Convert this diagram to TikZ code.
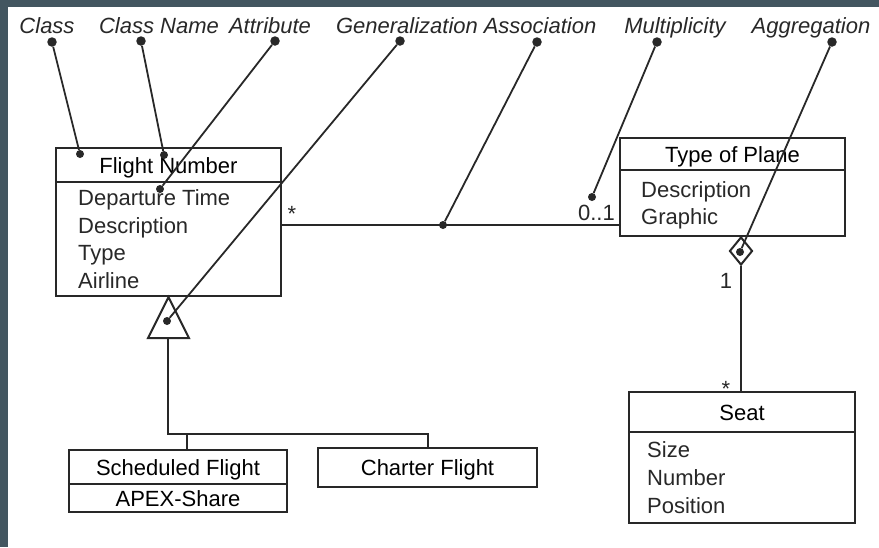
\documentclass[tikz,border=0pt]{standalone}
\usepackage{fontspec}
\setmainfont{Liberation Sans}
\usetikzlibrary{shapes.geometric}
\definecolor{slate}{RGB}{67,86,96}
\definecolor{ink}{RGB}{40,40,40}
\tikzset{
  umlbox/.style={draw=ink,line width=2.2pt,inner sep=0pt,text height=16pt,text depth=0pt,font=\fontsize{22}{26}\selectfont},
  attr/.style={anchor=base west,inner sep=0pt,text=ink,font=\fontsize{22}{26}\selectfont},
  tag/.style={anchor=base,inner sep=0pt,text=ink,font=\itshape\fontsize{22}{26}\selectfont},
  mult/.style={anchor=base,inner sep=0pt,text=ink,font=\fontsize{22}{26}\selectfont},
  pindot/.style={circle,fill=ink,inner sep=0pt,minimum size=8pt},
  topdot/.style={circle,fill=ink,inner sep=0pt,minimum size=9.5pt},
  lead/.style={draw=ink,line width=1.8pt},
  link/.style={draw=ink,line width=2pt}
}
\begin{document}
\begin{tikzpicture}[x=1pt,y=-1pt]
\useasboundingbox (0,0) rectangle (879,547);
\fill[white] (0,0) rectangle (879,547);
\fill[slate] (0,0) rectangle (8,547);
\fill[slate] (0,0) rectangle (879,7);
% classes
\node[umlbox,minimum width=225pt,minimum height=34pt] (fnhead) at (168.5,165) {Flight Number};
\node[umlbox,minimum width=225pt,minimum height=114pt] (fnbody) at (168.5,239) {};
\node[attr] (fn1) at (78,205) {Departure Time};
\node[attr] (fn2) at (78,233) {Description};
\node[attr] (fn3) at (78,260) {Type};
\node[attr] (fn4) at (78,288) {Airline};
\node[umlbox,minimum width=225pt,minimum height=32pt] (tphead) at (732.5,154) {Type of Plane};
\node[umlbox,minimum width=225pt,minimum height=66pt] (tpbody) at (732.5,203) {};
\node[attr] (tp1) at (641,197) {Description};
\node[attr] (tp2) at (641,224) {Graphic};
\node[umlbox,minimum width=226pt,minimum height=40pt] (sthead) at (742,412) {Seat};
\node[umlbox,minimum width=226pt,minimum height=91pt] (stbody) at (742,477.5) {};
\node[attr] (st1) at (647,457) {Size};
\node[attr] (st2) at (647,485) {Number};
\node[attr] (st3) at (647,513) {Position};
\node[umlbox,minimum width=218pt,minimum height=34pt] (schead) at (178,467) {Scheduled Flight};
\node[umlbox,minimum width=218pt,minimum height=28pt] (scbody) at (178,498) {APEX-Share};
\node[umlbox,minimum width=219pt,minimum height=39pt] (chhead) at (427.5,467.5) {Charter Flight};
% association
\node[pindot] (assoc) at (443,225) {};
\draw[link] (assoc -| fnbody.east) -- (assoc -| tpbody.west);
\node[mult] (m1) at (292,221) {*};
\node[mult,anchor=base east] (m2) at (615,220) {0..1};
% aggregation
\node[diamond,draw=ink,line width=2pt,fill=white,minimum width=23pt,minimum height=28pt,inner sep=0pt,anchor=north] (agg) at (741,236) {};
\draw[link] (agg.south) -- (agg.south |- sthead.north);
\node[mult] (m3) at (726,288) {1};
\node[mult] (m4) at (726,396) {*};
% generalization
\draw[link] (fnbody.south) -- ++(-20.5,41) coordinate (gleft) -- ++(41,0) -- cycle;
\coordinate (gbase) at (168,337);
\coordinate (gjoin) at (168,434);
\coordinate (sjoin) at (187,434);
\draw[link] (gbase) -- (gjoin) -- (gjoin -| chhead.north) -- (chhead.north);
\draw[link] (sjoin) -- (sjoin |- schead.north);
% labels
\node[tag] (lclass) at (47,33) {Class};
\node[tag] (lname) at (159,33) {Class Name};
\node[tag] (lattr) at (270,33) {Attribute};
\node[tag] (lgen) at (407,33) {Generalization};
\node[tag] (lassoc) at (540,33) {Association};
\node[tag] (lmult) at (675,33) {Multiplicity};
\node[tag] (lagg) at (811,33) {Aggregation};
\node[topdot] (tclass) at (52,42) {};
\node[topdot] (tname) at (141,41) {};
\node[topdot] (tattr) at (275,41) {};
\node[topdot] (tgen) at (400,41) {};
\node[topdot] (tassoc) at (537,42) {};
\node[topdot] (tmult) at (657,42) {};
\node[topdot] (tagg) at (832,42) {};
\node[pindot] (pclass) at (80,154) {};
\node[pindot] (pname) at (164,155) {};
\node[pindot] (pattr) at (160,189) {};
\node[pindot] (pgen) at (167,321) {};
\node[pindot] (pmult) at (592,197) {};
\node[pindot] (pagg) at (740,252) {};
\draw[lead] (tclass) -- (pclass);
\draw[lead] (tname) -- (pname);
\draw[lead] (tattr) -- (pattr);
\draw[lead] (tgen) -- (pgen);
\draw[lead] (tassoc) -- (assoc);
\draw[lead] (tmult) -- (pmult);
\draw[lead] (tagg) -- (pagg);
\end{tikzpicture}
\end{document}
